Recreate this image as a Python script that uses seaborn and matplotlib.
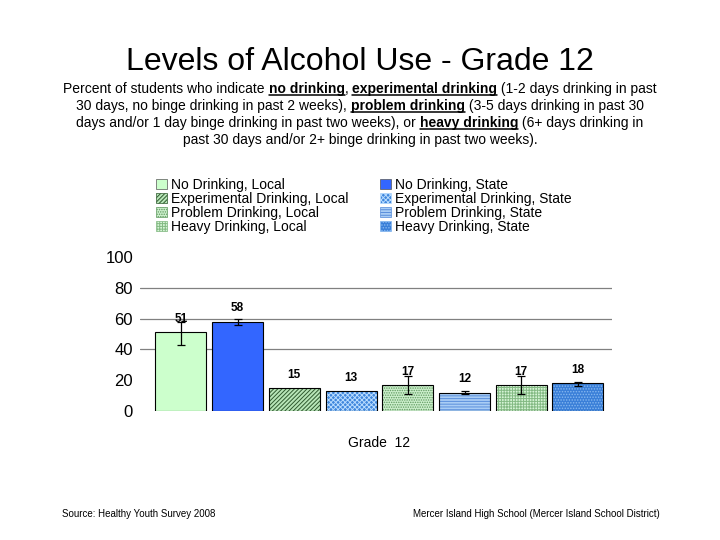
import matplotlib
matplotlib.use("Agg")
import matplotlib.pyplot as plt
import numpy as np
import pandas as pd
import seaborn as sns
from matplotlib.lines import Line2D
from matplotlib.patches import Patch, Rectangle

# chart data
series = [
    "No Drinking, Local",
    "No Drinking, State",
    "Experimental Drinking, Local",
    "Experimental Drinking, State",
    "Problem Drinking, Local",
    "Problem Drinking, State",
    "Heavy Drinking, Local",
    "Heavy Drinking, State",
]
percent = [51, 58, 15, 13, 17, 12, 17, 18]
err_low = [43, 56, np.nan, np.nan, 11, 11, 11, 16]
err_high = [58, 60, np.nan, np.nan, 23, 13, 23, 19]
grade = "Grade  12"
yticks = [0, 20, 40, 60, 80, 100]
grid_at = [40, 60, 80]

title = "Levels of Alcohol Use - Grade 12"
subtitle_lines = [
    [("Percent of students who indicate ", False), ("no drinking", True), (", ", False),
     ("experimental drinking", True), (" (1-2 days drinking in past", False)],
    [("30 days, no binge drinking in past 2 weeks), ", False), ("problem drinking", True),
     (" (3-5 days drinking in past 30", False)],
    [("days and/or 1 day binge drinking in past two weeks), or ", False), ("heavy drinking", True),
     (" (6+ days drinking in", False)],
    [("past 30 days and/or 2+ binge drinking in past two weeks).", False)],
]
source = "Source: Healthy Youth Survey 2008"
school = "Mercer Island High School (Mercer Island School District)"

# face colour, hatch colour, hatch pattern
styles = {
    "No Drinking, Local": ("#ccffcc", None, ""),
    "No Drinking, State": ("#3366ff", None, ""),
    "Experimental Drinking, Local": ("#b8e6b8", "#2f5a2f", "////////"),
    "Experimental Drinking, State": ("#3f86dc", "#b8dcff", "xxxxxxx"),
    "Problem Drinking, Local": ("#cdefcd", "#5f9a5f", "......."),
    "Problem Drinking, State": ("#a9cdf5", "#5a8fdc", "------"),
    "Heavy Drinking, Local": ("#d6f4d6", "#84ba84", "++++++"),
    "Heavy Drinking, State": ("#3a7fd8", "#86b8f0", "......"),
}

df = pd.DataFrame({"grade": grade, "series": series, "percent": percent,
                   "low": err_low, "high": err_high})

sns.set_theme(style="white")
plt.rcParams["font.family"] = ["Liberation Sans", "DejaVu Sans"]
plt.rcParams["text.color"] = "black"
plt.rcParams["xtick.color"] = "black"
plt.rcParams["ytick.color"] = "black"
plt.rcParams["hatch.linewidth"] = 0.7

W, H = 720, 540
fig = plt.figure(figsize=(7.2, 5.4), dpi=100)
fig.patch.set_facecolor("white")
ax = fig.add_axes([140 / W, 1 - 411 / H, 472 / W, 154 / H])

sns.barplot(data=df, x="grade", y="percent", hue="series", hue_order=series,
            palette={k: v[0] for k, v in styles.items()}, saturation=1,
            width=0.8, gap=0.1, edgecolor="black", linewidth=0.8,
            legend=False, ax=ax)

bars = [p for p in ax.patches if isinstance(p, Rectangle)]
for bar, name, row in zip(bars, series, df.itertuples()):
    face, hcol, hatch = styles[name]
    if hatch:
        bar.set_hatch(hatch)
        bar.set_edgecolor(hcol)
        bar.set_linewidth(0)
        bb = bar.get_bbox()
        ax.add_patch(Rectangle((bb.x0, bb.y0), bb.width, bb.height, fill=False,
                               edgecolor="black", linewidth=0.8, zorder=bar.get_zorder() + 0.1))
    cx = bar.get_x() + bar.get_width() / 2
    if not np.isnan(row.low):
        ax.errorbar([cx], [row.percent],
                    yerr=[[row.percent - row.low], [row.high - row.percent]],
                    fmt="none", ecolor="black", elinewidth=0.9, capsize=3, capthick=0.9, zorder=5)
    ax.annotate(f"{row.percent}", (cx, row.percent), xytext=(0, 9.5), textcoords="offset points",
                ha="center", va="center", fontsize=8.5, fontweight="bold", zorder=6)

ax.set_xlim(-0.422, 0.41)
ax.set_ylim(0, 100)
ax.set_yticks(yticks)
ax.tick_params(axis="y", labelsize=12, pad=5, length=0)
ax.tick_params(axis="x", labelsize=10, pad=18, length=0)
ax.set_xlabel("")
ax.set_ylabel("")
for y in grid_at:
    ax.axhline(y, color="#808080", linewidth=0.9, zorder=0)
for s in ax.spines.values():
    s.set_visible(False)
ax.set_facecolor("none")

# legend, two columns
handles = []
for name in series[0::2] + series[1::2]:
    face, hcol, hatch = styles[name]
    handles.append(Patch(facecolor=face, edgecolor=hcol if hcol else "#555555",
                         hatch=hatch, linewidth=0.5, label=name))
fig.legend(handles=handles, ncol=2, loc="upper left",
           bbox_to_anchor=(156 / W, 1 - 178 / H), frameon=False, fontsize=10,
           borderpad=0, labelspacing=0.0, handlelength=0.8, handleheight=0.8,
           handletextpad=0.3, columnspacing=2.25, borderaxespad=0)

# title and subtitle
fig.text(0.5, 1 - 62 / H, title, ha="center", va="center", fontsize=23)

renderer = fig.canvas.get_renderer()


def seg_width(txt, bold):
    w = "bold" if bold else "normal"
    t1 = fig.text(0, 0, "|" + txt + "|", fontsize=10, fontweight=w)
    t2 = fig.text(0, 0, "||", fontsize=10, fontweight=w)
    width = t1.get_window_extent(renderer).width - t2.get_window_extent(renderer).width
    t1.remove()
    t2.remove()
    return width


for i, line in enumerate(subtitle_lines):
    base = 93 + 17 * i
    widths = [seg_width(t, b) for t, b in line]
    x = W / 2 - sum(widths) / 2
    for (txt, bold), w in zip(line, widths):
        fig.text(x / W, 1 - base / H, txt, ha="left", va="baseline", fontsize=10,
                 fontweight="bold" if bold else "normal")
        if bold:
            fig.add_artist(Line2D([x / W, (x + w) / W], [1 - (base + 2) / H] * 2,
                                  color="black", linewidth=1.1))
        x += w

fig.text(62 / W, 1 - 514 / H, source, ha="left", va="center", fontsize=7)
fig.text(660 / W, 1 - 514 / H, school, ha="right", va="center", fontsize=7)

fig.savefig("out.png", dpi=100, facecolor="white")
